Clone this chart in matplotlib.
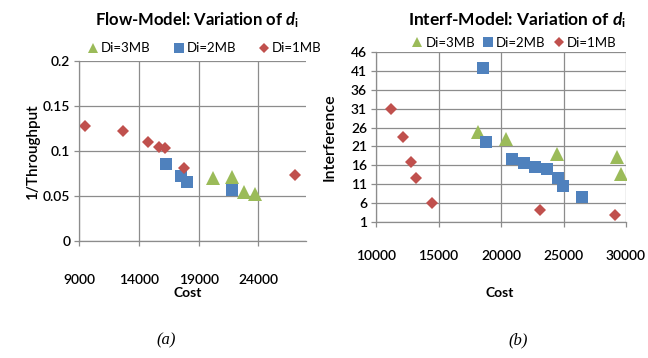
import matplotlib
matplotlib.use("Agg")
import matplotlib.pyplot as plt

plt.rcParams["font.family"] = ["Lato", "DejaVu Sans"]
plt.rcParams["mathtext.fontset"] = "custom"
plt.rcParams["mathtext.it"] = "Lato:bold:italic"
plt.rcParams["mathtext.rm"] = "Lato:bold"

# (a) Flow-Model
flow_1mb_cost = [9500, 12650, 14750, 15700, 16150, 17750, 27050]
flow_1mb_y = [0.128, 0.122, 0.110, 0.105, 0.1035, 0.0815, 0.0735]
flow_2mb_cost = [16300, 17550, 18050, 21800]
flow_2mb_y = [0.0855, 0.0725, 0.0658, 0.057]
flow_3mb_cost = [20200, 21800, 22800, 23750]
flow_3mb_y = [0.0705, 0.071, 0.0545, 0.0525]
flow_xticks = [9000, 14000, 19000, 24000]
flow_yticks = [0, 0.05, 0.1, 0.15, 0.2]
flow_yticklabels = ["0", "0.05", "0.1", "0.15", "0.2"]

# (b) Interf-Model
interf_1mb_cost = [11170, 12190, 12770, 13200, 14500, 23120, 29150]
interf_1mb_y = [30.9, 23.6, 16.8, 12.5, 5.9, 4.0, 2.7]
interf_2mb_cost = [18590, 18800, 20850, 21800, 22720, 23650, 24580, 24980, 26450]
interf_2mb_y = [41.7, 22.3, 17.7, 16.7, 15.6, 14.9, 12.5, 10.4, 7.5]
interf_3mb_cost = [18130, 20400, 24480, 29300, 29580]
interf_3mb_y = [24.9, 23.1, 19.0, 18.1, 13.6]
interf_xticks = [10000, 15000, 20000, 25000, 30000]
interf_yticks = [1, 6, 11, 16, 21, 26, 31, 36, 41, 46]

GREEN = "#9BBB59"
BLUE = "#4F81BD"
RED = "#C0504D"
GRID = "#8C8C8C"

W, H = 648, 358
fig = plt.figure(figsize=(W / 100, H / 100), dpi=100)


def px_axes(x0, y0, x1, y1):
    return fig.add_axes([x0 / W, 1 - y1 / H, (x1 - x0) / W, (y1 - y0) / H])


def style(ax, xpad):
    for side in ("top", "right"):
        ax.spines[side].set_visible(False)
    for side in ("left", "bottom"):
        ax.spines[side].set_color(GRID)
        ax.spines[side].set_linewidth(0.9)
    ax.grid(True, color=GRID, linewidth=0.9)
    ax.set_axisbelow(True)
    ax.tick_params(axis="both", direction="out", length=3.5, width=0.9,
                   color=GRID, labelsize=10)
    ax.tick_params(axis="x", pad=xpad)
    ax.tick_params(axis="y", pad=3)
    for lab in ax.get_xticklabels() + ax.get_yticklabels():
        lab.set_fontweight("semibold")


def scatter_series(ax, c3, y3, c2, y2, c1, y1):
    ax.plot(c3, y3, "^", color=GREEN, ms=10, mew=0, label="Di=3MB")
    ax.plot(c2, y2, "s", color=BLUE, ms=8.8, mew=0, label="Di=2MB")
    ax.plot(c1, y1, "D", color=RED, ms=6.2, mew=0, label="Di=1MB")


# left chart
ax1 = px_axes(79.3, 61, 306, 241)
scatter_series(ax1, flow_3mb_cost, flow_3mb_y, flow_2mb_cost, flow_2mb_y,
               flow_1mb_cost, flow_1mb_y)
ax1.set_xlim(9000, 28000)
ax1.set_ylim(0, 0.2)
ax1.set_xticks(flow_xticks)
ax1.set_yticks(flow_yticks)
ax1.set_yticklabels(flow_yticklabels)
style(ax1, 20)
ax1.set_ylabel("1/Throughput", fontsize=11, fontweight="semibold", labelpad=2)
ax1.legend(loc="lower center", bbox_to_anchor=(0.55, 1.0), ncol=3, frameon=False,
           fontsize=9.5, handletextpad=0.1, columnspacing=1.6, markerscale=0.75,
           borderaxespad=0.1, handlelength=1.0)
fig.text(197 / W, 1 - 20 / H, r"Flow-Model: Variation of $d_{\mathrm{i}}$",
         ha="center", va="center", fontsize=12, fontweight="bold")
fig.text(188 / W, 1 - 293 / H, "Cost", ha="center", va="center", fontsize=10,
         fontweight="bold")

# right chart
ax2 = px_axes(376, 52.3, 626, 221.7)
scatter_series(ax2, interf_3mb_cost, interf_3mb_y, interf_2mb_cost, interf_2mb_y,
               interf_1mb_cost, interf_1mb_y)
ax2.set_xlim(10000, 30000)
ax2.set_ylim(1, 46)
ax2.set_xticks(interf_xticks)
ax2.set_yticks(interf_yticks)
style(ax2, 17)
ax2.set_ylabel("Interference", fontsize=11.5, fontweight="semibold", labelpad=10)
ax2.legend(loc="lower center", bbox_to_anchor=(0.55, 0.98), ncol=3, frameon=False,
           fontsize=9.5, handletextpad=0.1, columnspacing=0.5, markerscale=0.75,
           borderaxespad=0.1, handlelength=1.0)
fig.text(517 / W, 1 - 20 / H, r"Interf-Model: Variation of $d_{\mathrm{i}}$",
         ha="center", va="center", fontsize=12.5, fontweight="bold")
fig.text(500 / W, 1 - 293 / H, "Cost", ha="center", va="center", fontsize=10,
         fontweight="bold")

# panel captions
fig.text(166 / W, 1 - 340 / H, "(a)", ha="center", va="center", fontsize=12,
         family="Liberation Serif", style="italic")
fig.text(518 / W, 1 - 340 / H, "(b)", ha="center", va="center", fontsize=12,
         family="Liberation Serif", style="italic")

fig.savefig("out.png", dpi=100)
